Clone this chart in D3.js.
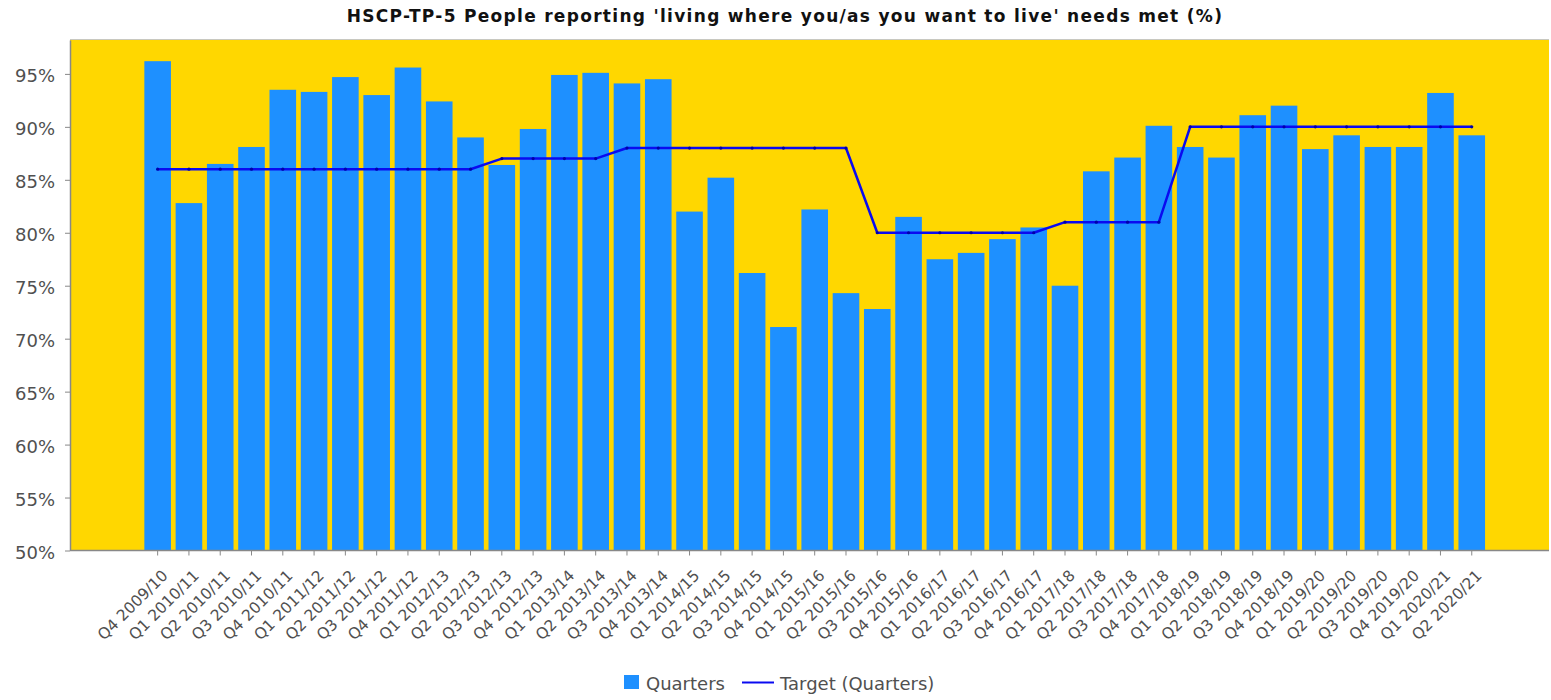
<!DOCTYPE html>
<html>
<head>
<meta charset="utf-8">
<script src="https://cdn.jsdelivr.net/npm/d3@7"></script>
<style>
  html, body { margin: 0; padding: 0; background: #ffffff; }
  svg { display: block; font-family: "DejaVu Sans", Verdana, sans-serif; }
</style>
</head>
<body>
<svg id="chart" width="1551" height="700"></svg>
<script>
// Quarter labels along the category axis
const quarters = [
  "Q4 2009/10",
  "Q1 2010/11", "Q2 2010/11", "Q3 2010/11", "Q4 2010/11",
  "Q1 2011/12", "Q2 2011/12", "Q3 2011/12", "Q4 2011/12",
  "Q1 2012/13", "Q2 2012/13", "Q3 2012/13", "Q4 2012/13",
  "Q1 2013/14", "Q2 2013/14", "Q3 2013/14", "Q4 2013/14",
  "Q1 2014/15", "Q2 2014/15", "Q3 2014/15", "Q4 2014/15",
  "Q1 2015/16", "Q2 2015/16", "Q3 2015/16", "Q4 2015/16",
  "Q1 2016/17", "Q2 2016/17", "Q3 2016/17", "Q4 2016/17",
  "Q1 2017/18", "Q2 2017/18", "Q3 2017/18", "Q4 2017/18",
  "Q1 2018/19", "Q2 2018/19", "Q3 2018/19", "Q4 2018/19",
  "Q1 2019/20", "Q2 2019/20", "Q3 2019/20", "Q4 2019/20",
  "Q1 2020/21", "Q2 2020/21"
];

// Quarterly result (%)
const actual = [
  96.2,
  82.8, 86.5, 88.1, 93.5,
  93.3, 94.7, 93.0, 95.6,
  92.4, 89.0, 86.4, 89.8,
  94.9, 95.1, 94.1, 94.5,
  82.0, 85.2, 76.2, 71.1,
  82.2, 74.3, 72.8, 81.5,
  77.5, 78.1, 79.4, 80.5,
  75.0, 85.8, 87.1, 90.1,
  88.1, 87.1, 91.1, 92.0,
  87.9, 89.2, 88.1, 88.1,
  93.2, 89.2
];

// Target (%)
const target = [
  86,
  86, 86, 86, 86,
  86, 86, 86, 86,
  86, 86, 87, 87,
  87, 87, 88, 88,
  88, 88, 88, 88,
  88, 88, 80, 80,
  80, 80, 80, 80,
  81, 81, 81, 81,
  90, 90, 90, 90,
  90, 90, 90, 90,
  90, 90
];

const yTicks = [50, 55, 60, 65, 70, 75, 80, 85, 90, 95];

const svg = d3.select("#chart");
const plot = { left: 70, right: 1549, top: 40, bottom: 550.5 };

const x = d3.scaleBand()
  .domain(quarters)
  .range([142, 1487.4])
  .paddingInner(0.15)
  .paddingOuter(0.075);

const y = d3.scaleLinear()
  .domain([50, 98.2])
  .range([plot.bottom, plot.top]);

// Title
svg.append("text")
  .attr("x", 785)
  .attr("y", 22)
  .attr("text-anchor", "middle")
  .attr("font-size", 17)
  .attr("letter-spacing", "1.3px")
  .attr("font-weight", "bold")
  .attr("fill", "#111")
  .text("HSCP-TP-5 People reporting 'living where you/as you want to live' needs met (%)");

// Plot background
svg.append("rect")
  .attr("x", plot.left)
  .attr("y", plot.top)
  .attr("width", plot.right - plot.left)
  .attr("height", plot.bottom - plot.top)
  .attr("fill", "#ffd700");

svg.append("line")
  .attr("x1", plot.left).attr("x2", plot.right)
  .attr("y1", plot.top - 0.5).attr("y2", plot.top - 0.5)
  .attr("stroke", "#c8c8c0").attr("stroke-width", 1);

// Bars
svg.append("g")
  .selectAll("rect")
  .data(quarters)
  .join("rect")
  .attr("x", d => x(d))
  .attr("y", (d, i) => y(actual[i]))
  .attr("width", x.bandwidth())
  .attr("height", (d, i) => y(50) - y(actual[i]))
  .attr("fill", "#1e90ff");

// Target line
const line = d3.line()
  .x((d, i) => x(quarters[i]) + x.bandwidth() / 2)
  .y(d => y(d));

svg.append("path")
  .datum(target)
  .attr("d", line)
  .attr("fill", "none")
  .attr("stroke", "#0a0af0")
  .attr("stroke-width", 2.5)
  .attr("stroke-linejoin", "round");

svg.append("g")
  .selectAll("circle")
  .data(target)
  .join("circle")
  .attr("cx", (d, i) => x(quarters[i]) + x.bandwidth() / 2)
  .attr("cy", d => y(d))
  .attr("r", 1.6)
  .attr("fill", "#0000a8");

// Y axis
const yAxis = svg.append("g")
  .attr("transform", `translate(${plot.left},0)`)
  .call(d3.axisLeft(y)
    .tickValues(yTicks)
    .tickFormat(d => d + "%")
    .tickSize(5)
    .tickSizeOuter(0)
    .tickPadding(10));
yAxis.select(".domain").attr("stroke", "#888").attr("stroke-width", 1.5);
yAxis.selectAll(".tick line").attr("stroke", "#888");
yAxis.selectAll(".tick text")
  .attr("font-size", 18)
  .attr("fill", "#505050")
  .attr("font-family", "DejaVu Sans, sans-serif")
  .attr("dy", "0.42em");

// X axis
svg.append("line")
  .attr("x1", plot.left).attr("x2", plot.right)
  .attr("y1", plot.bottom).attr("y2", plot.bottom)
  .attr("stroke", "#888").attr("stroke-width", 1.5);

const xAxis = svg.append("g")
  .attr("transform", `translate(0,${plot.bottom})`)
  .call(d3.axisBottom(x).tickSize(5).tickSizeOuter(0));
xAxis.select(".domain").remove();
xAxis.selectAll(".tick line").attr("stroke", "#888");
xAxis.selectAll(".tick text")
  .attr("font-size", 15.5)
  .attr("fill", "#505050")
  .attr("font-family", "DejaVu Sans, sans-serif")
  .attr("text-anchor", "end")
  .attr("y", 0)
  .attr("dy", 0)
  .attr("transform", "translate(11,26) rotate(-45)");

// Legend
const legend = svg.append("g");
legend.append("rect")
  .attr("x", 624).attr("y", 675)
  .attr("width", 15).attr("height", 14)
  .attr("fill", "#1e90ff");
legend.append("text")
  .attr("x", 646).attr("y", 690)
  .attr("font-size", 18)
  .attr("fill", "#505050")
  .text("Quarters");
legend.append("line")
  .attr("x1", 742).attr("x2", 774)
  .attr("y1", 682.5).attr("y2", 682.5)
  .attr("stroke", "#0a0af0").attr("stroke-width", 2);
legend.append("text")
  .attr("x", 780).attr("y", 690)
  .attr("font-size", 18)
  .attr("fill", "#505050")
  .text("Target (Quarters)");
</script>
</body>
</html>
